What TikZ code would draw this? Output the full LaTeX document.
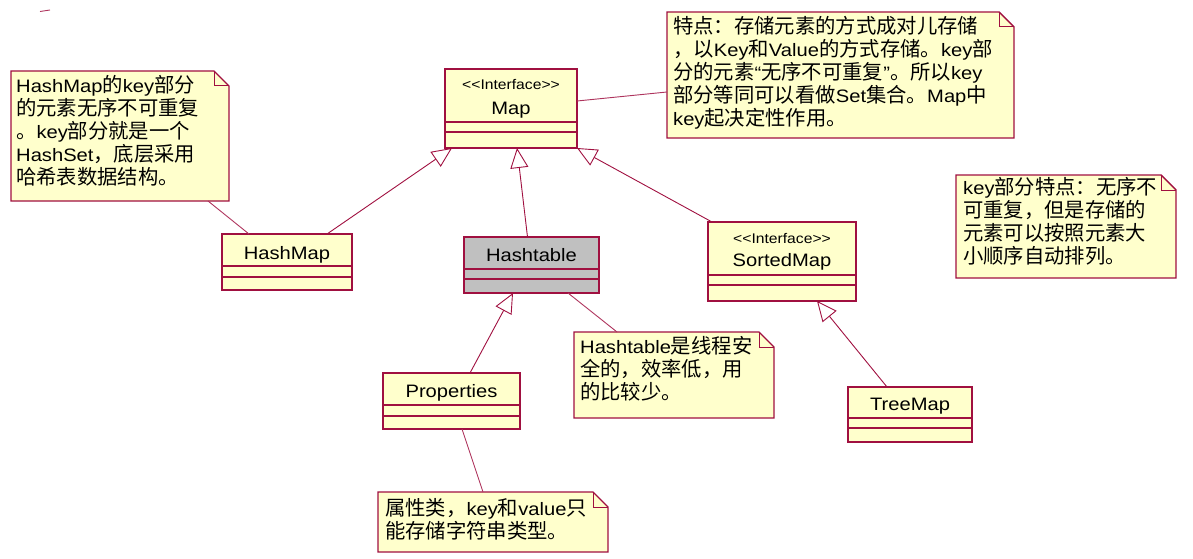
\documentclass[tikz,border=0pt]{standalone}
\usepackage{fontspec}
\setmainfont[FakeStretch=1.12]{Liberation Sans}
\newfontfamily\cjk[Scale=1.13]{Noto Sans CJK SC}
\newcommand\zh[1]{{\cjk#1}}
\usetikzlibrary{arrows.meta}
\definecolor{umlred}{RGB}{160,16,64}
\definecolor{umlyellow}{RGB}{255,255,204}
\definecolor{umlgray}{RGB}{192,192,192}
\tikzset{
  box/.style={draw=umlred, line width=1.6pt, fill=umlyellow, inner sep=0pt, outer sep=0pt},
  part/.style={draw=umlred, line width=1.2pt},
  noteframe/.style={inner sep=0pt, outer sep=0pt, anchor=north west},
  notebd/.style={draw=umlred, line width=1.4pt, line join=miter},
  cname/.style={font=\fontsize{18}{22}\selectfont, inner sep=0pt, anchor=base},
  stereo/.style={font=\fontsize{14}{16}\selectfont, inner sep=0pt, anchor=base},
  notetext/.style={font=\fontsize{18}{23}\selectfont, align=left, inner sep=0pt, anchor=north west},
  inherit/.style={draw=umlred, line width=0.9pt, -{Triangle[open, length=20pt, width=18pt]}},
  link/.style={draw=umlred!85, line width=0.9pt},
}
% note with folded corner round a named frame node
\newcommand\dogear[1]{%
  \fill[umlyellow] (#1.south west) -- (#1.north west) -- ([xshift=-15pt]#1.north east)
    -- ([yshift=-15pt]#1.north east) -- (#1.south east) -- cycle;
  \draw[notebd] (#1.south west) -- (#1.north west) -- ([xshift=-15pt]#1.north east)
    -- ([yshift=-15pt]#1.north east) -- (#1.south east) -- cycle;
  \draw[notebd, line width=1pt] ([xshift=-15pt]#1.north east) |- ([yshift=-15pt]#1.north east);
}
\newcommand\iface{<\kern0pt<Interface>\kern0pt>}
\begin{document}
\begin{tikzpicture}[x=1pt, y=-1pt]
  \useasboundingbox (0,0) rectangle (1193,559);
  % classes
  \node[box, minimum width=132pt, minimum height=79pt] (map) at (511,108.5) {};
  \node[box, minimum width=130pt, minimum height=56pt] (hashmap) at (287,262) {};
  \node[box, fill=umlgray, minimum width=135pt, minimum height=56pt] (hashtable) at (531.5,265) {};
  \node[box, minimum width=148pt, minimum height=79pt] (sortedmap) at (782,261.5) {};
  \node[box, minimum width=137pt, minimum height=56pt] (properties) at (451.5,401) {};
  \node[box, minimum width=124pt, minimum height=55pt] (treemap) at (910,414.5) {};
  \foreach \c/\a/\b in {map/53/63, hashmap/32/43, hashtable/32/42, sortedmap/53/63, properties/32/43, treemap/31/41}{
    \draw[part] ([yshift=-\a pt]\c.north west) -- ([yshift=-\a pt]\c.north east);
    \draw[part] ([yshift=-\b pt]\c.north west) -- ([yshift=-\b pt]\c.north east);
  }
  \node[stereo] (mapst) at (511,90) {\iface};
  \node[cname] (mapname) at (511,114.5) {Map};
  \node[cname] (hashmapname) at (287,259.5) {HashMap};
  \node[cname] (hashtablename) at (531.5,261.5) {Hashtable};
  \node[stereo] (sortedst) at (782,243) {\iface};
  \node[cname] (sortedname) at (782,266.5) {SortedMap};
  \node[cname] (propname) at (451.5,397) {Properties};
  \node[cname] (treename) at (910,410.5) {TreeMap};

  % notes
  \node[noteframe, minimum width=218pt, minimum height=130pt] (hmnote) at (11,71) {};
  \node[noteframe, minimum width=347pt, minimum height=126pt] (mapnote) at (667,12) {};
  \node[noteframe, minimum width=220pt, minimum height=103pt] (sortnote) at (956,175) {};
  \node[noteframe, minimum width=200pt, minimum height=86pt] (htnote) at (574,332) {};
  \node[noteframe, minimum width=230pt, minimum height=60pt] (propnote) at (378,492) {};
  \dogear{hmnote}\dogear{mapnote}\dogear{sortnote}\dogear{htnote}\dogear{propnote}
  \node[notetext] (hmtext) at (16,75.5) {HashMap\zh{的}key\zh{部分}\\
    \zh{的元素无序不可重复}\\
    \zh{。}key\zh{部分就是一个}\\
    HashSet\zh{，底层采用}\\
    \zh{哈希表数据结构。}};
  \node[notetext] (maptext) at (673,16.5) {\zh{特点：存储元素的方式成对儿存储}\\
    \zh{，以}Key\zh{和}Value\zh{的方式存储。}key\zh{部}\\
    \zh{分的元素}“\zh{无序不可重复}”\zh{。所以}key\\
    \zh{部分等同可以看做}Set\zh{集合。}Map\zh{中}\\
    key\zh{起决定性作用。}};
  \node[notetext] (sorttext) at (963,177.5) {key\zh{部分特点：无序不}\\
    \zh{可重复，但是存储的}\\
    \zh{元素可以按照元素大}\\
    \zh{小顺序自动排列。}};
  \node[notetext] (httext) at (580,336.5) {Hashtable\zh{是线程安}\\
    \zh{全的，效率低，用}\\
    \zh{的比较少。}};
  \node[notetext] (proptext) at (385,498.5) {\zh{属性类，}key\zh{和}value\zh{只}\\
    \zh{能存储字符串类型。}};

  % generalisations
  \draw[inherit] ([xshift=40pt]hashmap.north) -- ([xshift=-59pt]map.south);
  \draw[inherit] ([xshift=-4pt]hashtable.north) -- ([xshift=6pt]map.south);
  \draw[inherit] ([xshift=4pt]sortedmap.north west) -- (map.south east);
  \draw[inherit] ([xshift=18.5pt]properties.north) -- ([xshift=-18.5pt]hashtable.south);
  \draw[inherit] ([xshift=-23pt]treemap.north) -- ([xshift=35pt]sortedmap.south);
  % note links
  \draw[link] ([xshift=88pt]hmnote.south) -- ([xshift=-38pt]hashmap.north);
  \draw[link] ([yshift=7.5pt]map.east) -- ([yshift=-17pt]mapnote.west);
  \draw[link] ([xshift=36.5pt]hashtable.south) -- ([xshift=-57pt]htnote.north);
  \draw[link] ([xshift=10.5pt]properties.south) -- ([xshift=-10pt]propnote.north);
  \draw[link] (40,11.5) -- (50,10);
\end{tikzpicture}
\end{document}
